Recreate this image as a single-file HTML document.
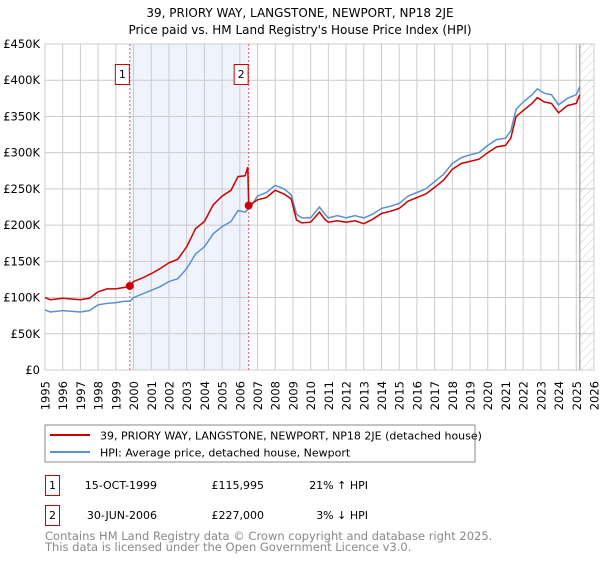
<!DOCTYPE html>
<html><head><meta charset="utf-8"><style>
body{margin:0;background:#fff;font-family:"DejaVu Sans","Liberation Sans",sans-serif;}
svg text{font-family:"DejaVu Sans","Liberation Sans",sans-serif;}
</style></head><body>
<svg id="chart" width="600" height="560">
<defs><pattern id="hatch" width="6" height="6" patternUnits="userSpaceOnUse" patternTransform="rotate(45)"><line x1="0" y1="0" x2="0" y2="6" stroke="#ccc" stroke-width="1"/></pattern></defs>
<text x="300" y="17" text-anchor="middle" font-size="12">39, PRIORY WAY, LANGSTONE, NEWPORT, NP18 2JE</text>
<text x="300" y="34" text-anchor="middle" font-size="12">Price paid vs. HM Land Registry's House Price Index (HPI)</text>
<g id="grid"></g><g id="axes"></g><g id="series"></g>
<rect x="45" y="425" width="430" height="37" fill="#fff" stroke="#888"/>
<line x1="50" y1="435" x2="90" y2="435" stroke="#cc0000" stroke-width="2"/>
<text x="100" y="439.5" font-size="11">39, PRIORY WAY, LANGSTONE, NEWPORT, NP18 2JE (detached house)</text>
<line x1="50" y1="452" x2="90" y2="452" stroke="#5b8fd0" stroke-width="2"/>
<text x="100" y="456.5" font-size="11">HPI: Average price, detached house, Newport</text>
<g>
<rect x="45.5" y="475.5" width="14" height="20" fill="#fff" stroke="#c00"/><text x="52.5" y="489" text-anchor="middle" font-size="11">1</text>
<text x="157" y="489" text-anchor="end" font-size="11">15-OCT-1999</text>
<text x="264" y="489" text-anchor="end" font-size="11">£115,995</text>
<text x="368" y="489" text-anchor="end" font-size="11">21% ↑ HPI</text></g>
<g>
<rect x="45.5" y="505.5" width="14" height="20" fill="#fff" stroke="#c00"/><text x="52.5" y="519" text-anchor="middle" font-size="11">2</text>
<text x="157" y="519" text-anchor="end" font-size="11">30-JUN-2006</text>
<text x="264" y="519" text-anchor="end" font-size="11">£227,000</text>
<text x="368" y="519" text-anchor="end" font-size="11">3% ↓ HPI</text></g>
<text x="45" y="540" font-size="11.5" fill="#888">Contains HM Land Registry data © Crown copyright and database right 2025.</text>
<text x="45" y="551" font-size="11.5" fill="#888">This data is licensed under the Open Government Licence v3.0.</text>
</svg>
<script>
const yTicks=[0,50,100,150,200,250,300,350,400,450];
const yTickLabels=["£0","£50K","£100K","£150K","£200K","£250K","£300K","£350K","£400K","£450K"];
const xYears=[1995,1996,1997,1998,1999,2000,2001,2002,2003,2004,2005,2006,2007,2008,2009,2010,2011,2012,2013,2014,2015,2016,2017,2018,2019,2020,2021,2022,2023,2024,2025,2026];
const saleDates=[1999.79,2006.5];
const salePrices=[115.995,227];
const saleLabels=["1","2"];
const hpiT=[1995,1995.3,1996,1997,1997.5,1998,1998.5,1999,1999.5,1999.8,2000,2000.5,2001,2001.5,2002,2002.5,2003,2003.5,2004,2004.5,2005,2005.5,2005.9,2006.3,2006.6,2007,2007.5,2008,2008.5,2008.9,2009.2,2009.5,2010,2010.5,2010.8,2011,2011.5,2012,2012.5,2013,2013.5,2014,2014.5,2015,2015.5,2016,2016.5,2017,2017.5,2018,2018.5,2019,2019.5,2020,2020.5,2021,2021.3,2021.6,2022,2022.5,2022.8,2023.2,2023.6,2024,2024.5,2025,2025.2];
const hpiV=[83,80,82,80,82,90,92,93,95,95,100,105,110,115,122,126,140,160,170,188,198,205,220,218,225,240,245,255,250,242,215,210,210,225,215,210,213,210,213,210,215,223,226,230,240,245,250,260,270,285,293,297,300,310,318,320,330,360,370,380,388,382,380,366,375,380,391];
const redT=[1995,1995.3,1996,1997,1997.5,1998,1998.5,1999,1999.5,1999.79,2000,2000.5,2001,2001.5,2002,2002.5,2003,2003.5,2004,2004.5,2005,2005.5,2005.9,2006.3,2006.45,2006.5,2007,2007.5,2008,2008.5,2008.9,2009.2,2009.5,2010,2010.5,2010.8,2011,2011.5,2012,2012.5,2013,2013.5,2014,2014.5,2015,2015.5,2016,2016.5,2017,2017.5,2018,2018.5,2019,2019.5,2020,2020.5,2021,2021.3,2021.6,2022,2022.5,2022.8,2023.2,2023.6,2024,2024.5,2025,2025.2];
const redV=[100,97,99,97,99,108,112,112,114,116,122,127,133,140,148,153,170,195,205,228,240,248,267,268,280,227,235,238,248,243,236,207,203,204,218,208,204,206,204,206,202,208,216,219,223,233,238,243,252,262,277,285,288,291,300,308,310,320,350,358,368,376,370,368,355,365,368,380];
const X0=45,X1=594,Y0=370,Y1=44;
const xs=t=>X0+(t-1995)/(2026-1995)*(X1-X0);
const ys=v=>Y0-v/450*(Y0-Y1);
const NS="http://www.w3.org/2000/svg";
function mk(tag,attrs,parent,txt){const e=document.createElementNS(NS,tag);for(const k in attrs)e.setAttribute(k,attrs[k]);if(txt!==undefined)e.textContent=txt;parent.appendChild(e);return e;}
const grid=document.getElementById('grid'),axes=document.getElementById('axes'),ser=document.getElementById('series');
let r=mk('rect',{x:X0,y:Y1,width:X1-X0,height:Y0-Y1,fill:'#fff'},grid);


r=mk('rect',{x:xs(saleDates[0]),y:Y1,width:xs(saleDates[1])-xs(saleDates[0]),height:Y0-Y1,fill:'#eef3fc'},grid);


r=mk('rect',{x:xs(2025.2),y:Y1,width:X1-xs(2025.2),height:Y0-Y1,fill:'url(#hatch)'},grid);


xYears.forEach((y,i)=>{const l=mk('line',{x1:xs(y),x2:xs(y),y1:Y1,y2:Y0,stroke:'#ccc'},grid);


const tx=xs(y)+4.5;
const t=mk('text',{x:tx,y:381,'text-anchor':'end','font-size':'11.5',transform:'rotate(-90 '+tx+' 381)'},axes,String(y));

});
yTicks.forEach((v,i)=>{const l=mk('line',{x1:X0,x2:X1,y1:ys(v),y2:ys(v),stroke:'#ccc'},grid);


const t=mk('text',{x:40,y:ys(v)+4,'text-anchor':'end','font-size':'11.5'},axes,yTickLabels[i]);

});
const vl=mk('line',{x1:xs(2025.2),x2:xs(2025.2),y1:Y1,y2:Y0,stroke:'#888'},grid);


r=mk('rect',{x:X0,y:Y1,width:X1-X0,height:Y0-Y1,fill:'none',stroke:'#ccc'},grid);


saleDates.forEach((d,i)=>{const l=mk('line',{x1:xs(d),x2:xs(d),y1:Y1,y2:Y0,stroke:'#e06060','stroke-dasharray':'2,2'},grid);


const b=mk('rect',{x:xs(d)-14.5,y:64.5,width:14,height:20,fill:'#fff',stroke:'#c00'},ser);


const t=mk('text',{x:xs(d)-7.5,y:78,'text-anchor':'middle','font-size':'11'},ser,saleLabels[i]);

});
const pth=(T,V)=>T.map((t,i)=>(i?'L':'M')+xs(t).toFixed(1)+','+ys(V[i]).toFixed(1)).join('');
const hp=mk('path',{d:pth(hpiT,hpiV),fill:'none',stroke:'#5b8fd0','stroke-width':1.5},ser);


const rp=mk('path',{d:pth(redT,redV),fill:'none',stroke:'#cc0000','stroke-width':1.5},ser);


saleDates.forEach((d,i)=>{const c=mk('circle',{cx:xs(d),cy:ys(salePrices[i]),r:4,fill:'#cc0000'},ser);

});
</script>
</body></html>
